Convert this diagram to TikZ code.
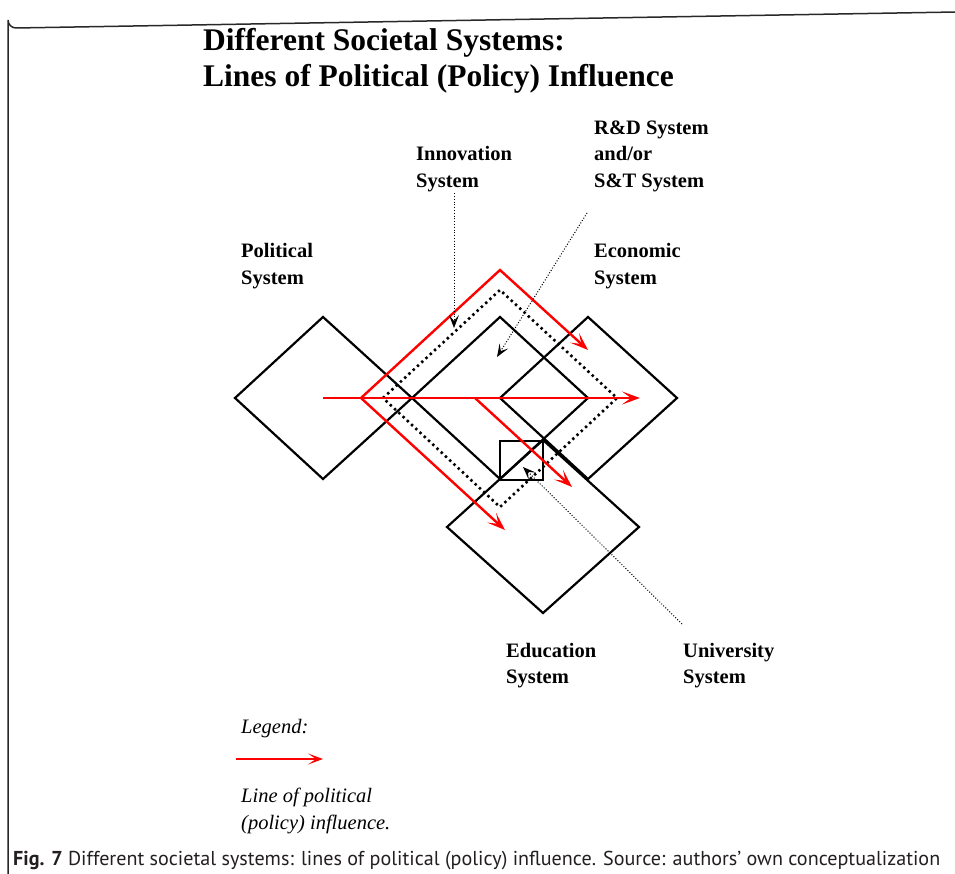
\documentclass[tikz,border=0pt]{standalone}
\usepackage{fontspec}
\setmainfont{Liberation Serif}
\newfontfamily\capfont{PT Sans}
\usetikzlibrary{arrows.meta}
\definecolor{framegray}{RGB}{40,40,40}
\definecolor{captext}{RGB}{35,31,32}
\begin{document}
\begin{tikzpicture}[x=1pt,y=-1pt,
  sysline/.style={line width=2.2pt, line join=miter},
  dotline/.style={line width=2.6pt, dash pattern=on 2.4pt off 3.4pt},
  redline/.style={red, line width=2.4pt, line join=miter},
  redtip/.style={-{Stealth[length=18pt,width=13pt,inset=9pt]}},
  annot/.style={line width=1pt, dash pattern=on 1pt off 1.8pt, -{Stealth[length=13pt,width=10pt,inset=6pt]}},
  lbl/.style={anchor=base west, inner sep=1pt, align=left, font=\fontsize{20.5}{26.5}\selectfont\bfseries},
  itl/.style={anchor=base west, inner sep=1pt, align=left, font=\fontsize{20.5}{27}\selectfont\itshape}
]
\useasboundingbox (0,0) rectangle (955,874);
\fill[white] (0,0) rectangle (955,874);
% frame
\draw[framegray, line width=1.5pt] (8,874) -- (8,20) arc[start angle=180, end angle=90, radius=8] -- (956,12);

% title (anchor base = last line)
\node[anchor=base west, inner sep=0, align=left, font=\fontsize{31.5}{36}\selectfont\bfseries] (title) at (203,87)
  {Different Societal Systems:\\Lines of Political (Policy) Influence};

% labels (anchor base = last line)
\node[lbl] (innov) at (415,187.5) {Innovation\\System};
\node[lbl] (rnd) at (593,187.5) {R\&D System\\and/or\\S\&T System};
\node[lbl] (pol) at (240,284.5) {Political\\System};
\node[lbl] (eco) at (593,284.5) {Economic\\System};
\node[lbl] (edu) at (505,683.5) {Education\\System};
\node[lbl] (univ) at (682,683.5) {University\\System};

% system diamonds
\draw[sysline] (235,398) -- (323,317) -- (412,398) -- (323,479) -- cycle;
\draw[sysline] (412,398) -- (500,317) -- (588,398) -- (500,479) -- cycle;
\draw[sysline] (500,398) -- (588,317) -- (677,398) -- (588,479) -- cycle;
\draw[sysline] (447,527) -- (543,440) -- (639,527) -- (543,613) -- cycle;
\draw[line width=1.6pt] (500,441) rectangle (543,480);
% innovation system (dotted)
\draw[dotline] (383,398) -- (500,290) -- (617,398) -- (500,507) -- cycle;

% red lines of influence
\draw[redline, {Stealth[length=18pt,width=13pt,inset=9pt]}-{Stealth[length=18pt,width=13pt,inset=9pt]}]
  (588,350) -- (500,270) -- (361,398) -- (505,530);
\draw[redline, redtip] (323,398) -- (640,398);
\draw[redline, redtip] (475,398) -- (572,487);

% annotation pointers
\coordinate (itip) at (454,328);
\coordinate (rtail) at (587,213);
\coordinate (rtip) at (497,357);
\coordinate (utail) at (682,624);
\coordinate (utip) at (523,467);
\draw[annot] (innov.south -| itip) -- (itip);
\draw[annot] (rtail) -- (rtip);
\draw[annot] (utail) -- (utip);

% legend
\node[itl] (leg) at (240,733) {Legend:};
\coordinate (la) at (236,759);
\coordinate (lb) at (323,759);
\draw[redline, -{Stealth[length=15pt,width=11pt,inset=8pt]}] (la) -- (lb);
\node[itl] (legtxt) at (240,829) {Line of political\\(policy) influence.};

% caption
\node[anchor=base west, inner sep=0, text=captext] (cap) at (13,865)
  {\resizebox{927pt}{!}{\capfont\fontsize{18}{20}\selectfont\textbf{Fig. 7} Different societal systems: lines of political (policy) influence. Source: authors’ own conceptualization}};
\end{tikzpicture}
\end{document}
